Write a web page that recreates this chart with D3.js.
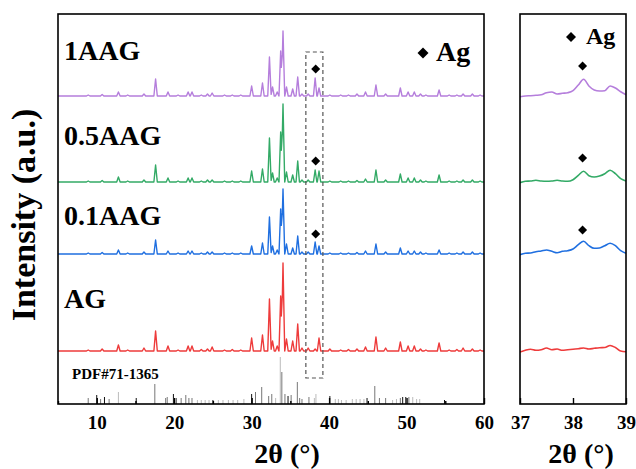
<!DOCTYPE html>
<html>
<head>
<meta charset="utf-8">
<script src="https://cdn.jsdelivr.net/npm/d3@7"></script>
<style>
  html, body { margin: 0; padding: 0; background: #fff; }
  svg { display: block; }
  text { font-family: "Liberation Serif", "Times New Roman", serif; font-weight: bold; fill: #000; }
</style>
</head>
<body>
<svg id="chart" width="636" height="469"></svg>
<script>
// ---------------- DATA ----------------
const seriesNames = ["AG", "0.1AAG", "0.5AAG", "1AAG"];
const seriesColors = ["#EE3B3B", "#1F6FE0", "#33AA66", "#B57EDC"];
const seriesOffsets = [53, 150, 222, 308];           // vertical stacking offset (a.u.)

// Peak positions (2θ, °) shared by all patterns
const peakPos = [8.9, 10.7, 12.8, 14.0, 16.1, 17.6, 19.2, 20.5, 21.8, 22.3, 23.5, 24.3, 24.9, 26.5, 27.5, 28.6,
  30.0, 31.4, 32.3, 32.7, 33.3, 33.75, 34.05, 34.5, 35.3, 35.95, 36.5, 37.3, 38.2, 38.7,
  40.1, 41.5, 42.5, 43.6, 44.7, 46.05, 47.3, 49.2, 50.2, 51.0, 51.8, 52.5, 54.2, 55.5, 56.5, 57.3, 58.5, 59.5];
// Peak heights (a.u.) for each pattern
const hAG    = [1, 2, 6, 1, 3, 20, 5, 1, 5, 5, 1.5, 2, 4, 1, 1.5, 1,
  13, 16, 52, 10, 5, 55, 88, 12, 10, 27, 3, 3, 2, 13,
  2, 1, 1.5, 2, 4, 14, 3, 9, 5, 5, 2, 1, 8, 1, 1.5, 3, 2, 1];
const h01AAG = [1, 1.5, 4, 1, 2, 14, 3, 1, 3, 3, 1, 2, 2, 1, 1, 1,
  8, 11, 37, 8, 4, 45, 65, 10, 6, 18, 2, 2, 12, 8,
  1, 1, 1, 1.5, 3, 10, 2, 6, 3, 3, 2, 1, 4, 1, 1, 2, 2, 1];
const h05AAG = [1, 1.5, 5, 1, 2, 17, 4, 1, 4, 4, 1, 2, 2, 1, 1, 1,
  11, 13, 44, 9, 4, 50, 78, 10, 7, 21, 2, 2, 12, 11,
  1, 1, 1, 1.5, 3, 12, 2, 8, 4, 4, 2, 1, 7, 1, 1, 2, 2, 1];
const h1AAG  = [1, 1.5, 4, 1, 2, 17, 4, 1, 4, 4, 1, 2, 3, 1, 1, 1,
  10, 13, 39, 9, 4, 45, 65, 9, 7, 19, 2, 2, 18, 8,
  1, 1, 1, 2, 4, 11, 2, 8, 4, 4, 2, 1, 6, 1, 1, 2, 2, 1];
const peakHeights = [hAG, h01AAG, h05AAG, h1AAG];

// Zoomed region 37–39° (sampled every 0.1°)
const zoomTheta = [37.0, 37.1, 37.2, 37.3, 37.4, 37.5, 37.6, 37.7, 37.8, 37.9, 38.0,
  38.1, 38.2, 38.3, 38.4, 38.5, 38.6, 38.7, 38.8, 38.9, 39.0];
const zAG    = [-1, 0.7, 1.7, 0.7, 1.3, 3, 1.3, 2, 0.7, 1.3, 1.7, 2.3, 3, 2, 2.7, 3.3, 3.5, 5.5, 3.5, 0, -0.7];
const z01AAG = [-0.7, 0.7, 1, 2.3, 3, 4, 2.7, 1.3, 2.7, 3.3, 5, 9.3, 12.7, 8.3, 5.7, 6, 8.3, 10.7, 8.3, 3.3, 0.7];
const z05AAG = [-0.7, 0.7, 1, 1.7, 1, 0.7, 1, 1.7, 1, 0.7, 2.3, 6.7, 10.7, 6.3, 5, 6, 8.3, 11.7, 8.3, 3.3, 1];
const z1AAG  = [-0.7, 0, 0.3, 0.7, 1.3, 3.3, 4, 2, 2.7, 3.3, 5.3, 11, 16.7, 10, 6, 5, 5.3, 10, 8, 4.3, 1.3];
const zoomValues = [zAG, z01AAG, z05AAG, z1AAG];

// Ag marker heights above each baseline (a.u.)
const agMainTheta = 38.27, agMainHeight = [null, 20, 21, 27];
const agZoomTheta = 38.18, agZoomHeight = [null, 24, 24, 30];

// Standard card PDF#71-1365: position, relative height, shade (0 black,1 gray,2 light)
const pdfPos = [8.9, 10.0, 10.5, 11.0, 11.6, 12.8, 15.1, 17.5, 18.9, 19.1, 19.9, 20.3, 20.9, 21.5, 21.9, 22.3,
  23.0, 23.5, 24.0, 24.5, 25.0, 25.7, 26.3, 27.0, 27.6, 28.2, 29.0, 30.0, 30.5, 31.3, 32.2, 32.6, 33.1,
  33.7, 33.9, 34.3, 34.7, 35.1, 35.9, 36.2, 36.5, 37.4, 38.1, 38.3, 40.1, 40.8, 41.2, 41.6, 42.2, 43.0,
  43.5, 44.0, 44.5, 44.9, 45.9, 46.5, 47.3, 48.2, 48.7, 49.2, 49.5, 49.9, 50.3, 50.8, 51.3, 51.7, 54.9];
const pdfInt = [6, 9, 5, 7, 5, 12, 6, 20, 6, 7, 10, 6, 6, 9, 6, 6,
  4, 4, 4, 4, 4, 4, 4, 4, 4, 4, 5, 10, 12, 17, 8, 10, 6,
  47, 32, 10, 8, 9, 22, 6, 5, 7, 6, 10, 8, 5, 5, 4, 4, 5,
  5, 5, 5, 6, 18, 6, 6, 4, 5, 6, 7, 7, 7, 7, 5, 5, 4];
const pdfShade = [1, 0, 1, 0, 1, 2, 0, 1, 1, 1, 0, 1, 1, 1, 1, 1,
  2, 2, 2, 2, 0, 2, 2, 2, 2, 2, 2, 0, 1, 1, 1, 1, 2,
  2, 1, 1, 0, 1, 1, 1, 1, 1, 2, 2, 0, 2, 2, 2, 2, 2,
  2, 2, 2, 0, 1, 1, 1, 2, 2, 1, 0, 0, 1, 2, 2, 2, 0];

const mainTicks = [10, 20, 30, 40, 50, 60];
const mainMinorTicks = [5, 15, 25, 35, 45, 55];
const zoomTicks = [37, 38, 39];
const pdfLabel = "PDF#71-1365";
const boxRange = [37, 39.2];

// ---------------- CHART ----------------
const svg = d3.select("#chart");
const M = { left: 58, right: 484, top: 14, bottom: 404 };
const Z = { left: 520, right: 626 };

const x = d3.scaleLinear().domain([5, 60]).range([M.left, M.right]);
const xz = d3.scaleLinear().domain([37, 39]).range([Z.left, Z.right]);
const y = d3.scaleLinear().domain([0, 390]).range([M.bottom, M.top]);

svg.append("defs").append("clipPath").attr("id", "clipMain")
  .append("rect").attr("x", M.left).attr("y", M.top).attr("width", M.right - M.left).attr("height", M.bottom - M.top);
svg.select("defs").append("clipPath").attr("id", "clipZoom")
  .append("rect").attr("x", Z.left).attr("y", M.top).attr("width", Z.right - Z.left).attr("height", M.bottom - M.top);

// Build a stick-profile from the peak table
function profile(heights) {
  const w = 0.22;
  const xs = new Set([5, 60]);
  peakPos.forEach(p => { xs.add(+(p - w).toFixed(3)); xs.add(p); xs.add(+(p + w).toFixed(3)); });
  const arr = Array.from(xs).sort((a, b) => a - b);
  return arr.map(t => {
    let v = 0;
    peakPos.forEach((p, i) => { v += heights[i] * Math.max(0, 1 - Math.abs(t - p) / w); });
    return [t, v];
  });
}

// PDF sticks
const gPdf = svg.append("g");
pdfPos.forEach((p, i) => {
  gPdf.append("line")
    .attr("x1", x(p)).attr("x2", x(p))
    .attr("y1", y(0)).attr("y2", y(pdfInt[i]))
    .attr("stroke", ["#111", "#777", "#bbb"][pdfShade[i]])
    .attr("stroke-width", 1);
});

// Main patterns
const lineMain = d3.line().x(d => x(d[0])).y(d => y(d[1]));
const gMain = svg.append("g").attr("clip-path", "url(#clipMain)");
seriesNames.forEach((name, s) => {
  const pts = profile(peakHeights[s]).map(d => [d[0], d[1] + seriesOffsets[s]]);
  gMain.append("path").datum(pts)
    .attr("d", lineMain)
    .attr("fill", "none")
    .attr("stroke", seriesColors[s])
    .attr("stroke-width", 1.4)
    .attr("stroke-linejoin", "round");
});

// Zoom patterns
const lineZ = d3.line().x(d => xz(d[0])).y(d => y(d[1])).curve(d3.curveMonotoneX);
const gZoom = svg.append("g").attr("clip-path", "url(#clipZoom)");
seriesNames.forEach((name, s) => {
  const pts = zoomTheta.map((t, i) => [t, zoomValues[s][i] + seriesOffsets[s]]);
  gZoom.append("path").datum(pts)
    .attr("d", lineZ)
    .attr("fill", "none")
    .attr("stroke", seriesColors[s])
    .attr("stroke-width", 1.6);
});

// Dashed box
svg.append("rect")
  .attr("x", x(boxRange[0])).attr("y", y(352))
  .attr("width", x(boxRange[1]) - x(boxRange[0])).attr("height", y(26) - y(352))
  .attr("fill", "none").attr("stroke", "#555").attr("stroke-width", 1.2)
  .attr("stroke-dasharray", "4,3");

// Diamonds
function diamond(cx, cy, r) {
  return `M${cx},${cy - r}L${cx + r},${cy}L${cx},${cy + r}L${cx - r},${cy}Z`;
}
seriesNames.forEach((name, s) => {
  if (agMainHeight[s] !== null) {
    svg.append("path").attr("d", diamond(x(agMainTheta), y(seriesOffsets[s] + agMainHeight[s]), 4.5)).attr("fill", "#000");
    svg.append("path").attr("d", diamond(xz(agZoomTheta), y(seriesOffsets[s] + agZoomHeight[s]), 4.5)).attr("fill", "#000");
  }
});

// Frames
svg.append("rect").attr("x", M.left).attr("y", M.top).attr("width", M.right - M.left).attr("height", M.bottom - M.top)
  .attr("fill", "none").attr("stroke", "#000").attr("stroke-width", 1.6);
svg.append("rect").attr("x", Z.left).attr("y", M.top).attr("width", Z.right - Z.left).attr("height", M.bottom - M.top)
  .attr("fill", "none").attr("stroke", "#000").attr("stroke-width", 1.6);

// Axes
const axMain = svg.append("g").attr("transform", `translate(0,${M.bottom})`)
  .call(d3.axisBottom(x).tickValues(mainTicks).tickSize(-6).tickPadding(12).tickFormat(d3.format("d")));
const axMinor = svg.append("g").attr("transform", `translate(0,${M.bottom})`)
  .call(d3.axisBottom(x).tickValues(mainMinorTicks).tickSize(-3).tickFormat(""));
const axZoom = svg.append("g").attr("transform", `translate(0,${M.bottom})`)
  .call(d3.axisBottom(xz).tickValues(zoomTicks).tickSize(-6).tickPadding(12).tickFormat(d3.format("d")));
[axMain, axMinor, axZoom].forEach(g => {
  g.select(".domain").remove();
  g.selectAll(".tick line").attr("stroke", "#000").attr("stroke-width", 1.4);
  g.selectAll(".tick text").attr("font-size", 19).attr("font-family", "Liberation Serif").attr("font-weight", "bold").attr("fill", "#000");
});

// Axis titles
svg.append("text").attr("x", 287).attr("y", 463).attr("text-anchor", "middle").attr("font-size", 28).text("2θ (°)");
svg.append("text").attr("x", 581).attr("y", 463).attr("text-anchor", "middle").attr("font-size", 28).text("2θ (°)");
svg.append("text").attr("transform", "translate(35,215) rotate(-90)").attr("text-anchor", "middle")
  .attr("font-size", 34).text("Intensity (a.u.)");

// Series labels
const labelBaselines = [308, 225, 145, 60];
seriesNames.forEach((name, s) => {
  svg.append("text").attr("x", 64).attr("y", labelBaselines[s]).attr("font-size", 28).text(name);
});

// PDF label
svg.append("text").attr("x", 72).attr("y", 379).attr("font-size", 15).text(pdfLabel);

// Legends "◆ Ag"
svg.append("path").attr("d", diamond(423, 53, 5.5)).attr("fill", "#000");
svg.append("text").attr("x", 436).attr("y", 61).attr("font-size", 28).text("Ag");
svg.append("path").attr("d", diamond(571, 37, 5)).attr("fill", "#000");
svg.append("text").attr("x", 586).attr("y", 44).attr("font-size", 24).text("Ag");
</script>
</body>
</html>
